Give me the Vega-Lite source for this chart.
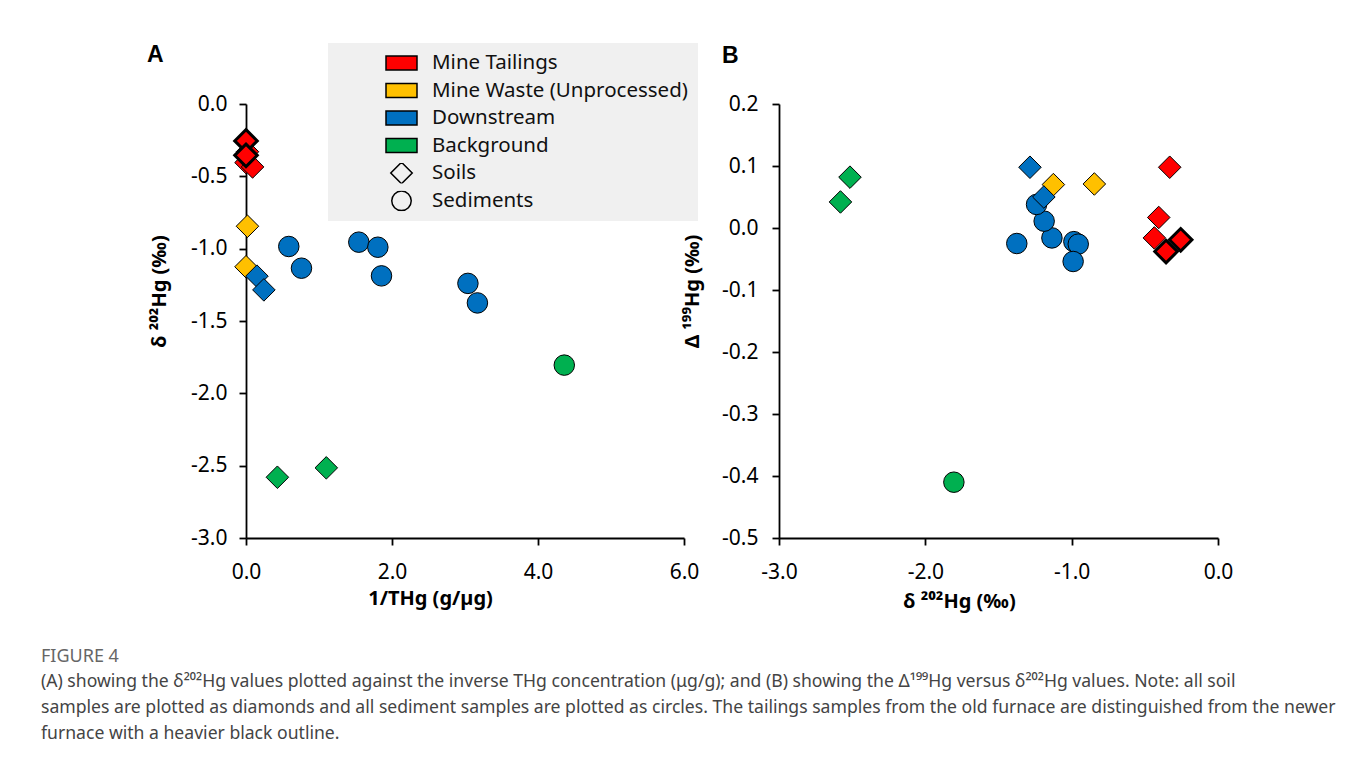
{
  "$schema": "https://vega.github.io/schema/vega-lite/v6.json",
  "background": "white",
  "padding": {"left": 41, "top": 43, "right": 5, "bottom": 5},
  "datasets": {
    "samples": [
      {"Sample": "G1", "Group": "Background", "Type": "Soils", "Outline": "normal", "invTHg": 0.43, "d202Hg": -2.58, "D199Hg": 0.042},
      {"Sample": "G2", "Group": "Background", "Type": "Soils", "Outline": "normal", "invTHg": 1.10, "d202Hg": -2.515, "D199Hg": 0.082},
      {"Sample": "G3", "Group": "Background", "Type": "Sediments", "Outline": "normal", "invTHg": 4.36, "d202Hg": -1.805, "D199Hg": -0.41},
      {"Sample": "W1", "Group": "Mine Waste (Unprocessed)", "Type": "Soils", "Outline": "normal", "invTHg": 0.02, "d202Hg": -0.845, "D199Hg": 0.071},
      {"Sample": "W2", "Group": "Mine Waste (Unprocessed)", "Type": "Soils", "Outline": "normal", "invTHg": 0.0, "d202Hg": -1.125, "D199Hg": 0.07},
      {"Sample": "S1", "Group": "Downstream", "Type": "Sediments", "Outline": "normal", "invTHg": 0.586, "d202Hg": -0.985, "D199Hg": -0.022},
      {"Sample": "S2", "Group": "Downstream", "Type": "Sediments", "Outline": "normal", "invTHg": 0.76, "d202Hg": -1.135, "D199Hg": -0.016},
      {"Sample": "S3", "Group": "Downstream", "Type": "Sediments", "Outline": "normal", "invTHg": 1.545, "d202Hg": -0.955, "D199Hg": -0.026},
      {"Sample": "S4", "Group": "Downstream", "Type": "Sediments", "Outline": "normal", "invTHg": 1.806, "d202Hg": -0.99, "D199Hg": -0.054},
      {"Sample": "S5", "Group": "Downstream", "Type": "Sediments", "Outline": "normal", "invTHg": 1.856, "d202Hg": -1.188, "D199Hg": 0.011},
      {"Sample": "S6", "Group": "Downstream", "Type": "Sediments", "Outline": "normal", "invTHg": 3.04, "d202Hg": -1.24, "D199Hg": 0.038},
      {"Sample": "S7", "Group": "Downstream", "Type": "Sediments", "Outline": "normal", "invTHg": 3.17, "d202Hg": -1.375, "D199Hg": -0.025},
      {"Sample": "D1", "Group": "Downstream", "Type": "Soils", "Outline": "normal", "invTHg": 0.15, "d202Hg": -1.19, "D199Hg": 0.05},
      {"Sample": "D2", "Group": "Downstream", "Type": "Soils", "Outline": "normal", "invTHg": 0.245, "d202Hg": -1.285, "D199Hg": 0.098},
      {"Sample": "T3", "Group": "Mine Tailings", "Type": "Soils", "Outline": "normal", "invTHg": 0.02, "d202Hg": -0.33, "D199Hg": 0.098},
      {"Sample": "T4", "Group": "Mine Tailings", "Type": "Soils", "Outline": "normal", "invTHg": 0.0, "d202Hg": -0.405, "D199Hg": 0.017},
      {"Sample": "T5", "Group": "Mine Tailings", "Type": "Soils", "Outline": "normal", "invTHg": 0.09, "d202Hg": -0.435, "D199Hg": -0.016},
      {"Sample": "T1", "Group": "Mine Tailings", "Type": "Soils", "Outline": "heavy", "invTHg": 0.0, "d202Hg": -0.255, "D199Hg": -0.019},
      {"Sample": "T2", "Group": "Mine Tailings", "Type": "Soils", "Outline": "heavy", "invTHg": 0.0, "d202Hg": -0.355, "D199Hg": -0.038}
    ]
  },
  "data": {"name": "samples"},
  "title": {
    "text": "FIGURE 4",
    "subtitle": [
      "(A) showing the δ²⁰²Hg values plotted against the inverse THg concentration (μg/g); and (B) showing the Δ¹⁹⁹Hg versus δ²⁰²Hg values. Note: all soil",
      "samples are plotted as diamonds and all sediment samples are plotted as circles. The tailings samples from the old furnace are distinguished from the newer",
      "furnace with a heavier black outline."
    ],
    "orient": "bottom",
    "anchor": "start",
    "frame": "group",
    "align": "left",
    "dx": -205,
    "offset": 37,
    "font": "Noto Sans",
    "fontSize": 18,
    "fontWeight": "normal",
    "color": "#666666",
    "subtitleFont": "Noto Sans",
    "subtitleFontSize": 17.6,
    "subtitleColor": "#444444",
    "subtitleLineHeight": 26,
    "subtitlePadding": 7
  },
  "bounds": "flush",
  "spacing": 95,
  "resolve": {
    "scale": {"x": "independent", "y": "independent", "fill": "independent", "shape": "independent", "strokeWidth": "independent"},
    "legend": {"fill": "independent", "shape": "independent"}
  },
  "hconcat": [
    {
      "width": 438,
      "height": 434,
      "title": {"text": "A", "anchor": "start", "frame": "group", "dx": -99, "offset": -42, "font": "Liberation Sans", "fontSize": 23, "fontWeight": "bold", "color": "black", "baseline": "alphabetic"},
      "mark": {"type": "point", "filled": true, "opacity": 1, "stroke": "black", "size": 420},
      "encoding": {
        "x": {
          "field": "invTHg", "type": "quantitative",
          "scale": {"domain": [0, 6], "nice": false, "zero": false},
          "axis": {
            "values": [0, 2, 4, 6],
            "labelExpr": "replace(format(datum.value, '.1f'), '−', '-')",
            "title": "1/THg (g/µg)",
            "titleX": 184, "titleY": 60, "titleBaseline": "middle", "titleAlign": "center",
            "labelPadding": 16,
            "encode": {"ticks": {"y": {"value": -6}}}
          }
        },
        "y": {
          "field": "d202Hg", "type": "quantitative",
          "scale": {"domain": [-3, 0], "nice": false, "zero": false},
          "axis": {
            "values": [0, -0.5, -1, -1.5, -2, -2.5, -3],
            "labelExpr": "replace(format(datum.value, '.1f'), '−', '-')",
            "title": "δ ²⁰²Hg (‰)",
            "titleX": -87, "titleY": 187, "titleAngle": 270, "titleBaseline": "middle", "titleAlign": "center",
            "labelPadding": 12,
            "encode": {"ticks": {"x": {"value": 6}}}
          }
        },
        "fill": {
          "field": "Group", "type": "nominal",
          "scale": {
            "domain": ["Mine Tailings", "Mine Waste (Unprocessed)", "Downstream", "Background", "Soils", "Sediments"],
            "range": ["#FF0000", "#FFC000", "#0070C0", "#00B050", "#f0f0f0", "#f0f0f0"]
          },
          "legend": {
            "orient": "none", "legendX": 82, "legendY": -61,
            "zindex": 0,
            "title": null,
            "fillColor": "#f0f0f0",
            "padding": 10,
            "symbolType": "M-1,-0.45H1V0.45H-1Z",
            "symbolSize": 961,
            "symbolStrokeColor": "black", "symbolStrokeWidth": 1.5, "symbolOpacity": 1,
            "symbolOffset": 47,
            "labelOffset": 14,
            "clipHeight": 20,
            "rowPadding": 6.5,
            "labelFont": "Noto Sans", "labelFontSize": 20.5, "labelColor": "#111111",
            "labelLimit": 400,
            "labelExpr": "datum.label === 'Soils' || datum.label === 'Sediments' ? '' : datum.label"
          }
        },
        "shape": {
          "field": "Type", "type": "nominal",
          "scale": {"domain": ["Soils", "Sediments"], "range": ["M0,-1.1L1.1,0L0,1.1L-1.1,0Z", "circle"]},
          "legend": {
            "orient": "none", "legendX": 82, "legendY": 55,
            "zindex": 1,
            "title": null,
            "fillColor": "#f0f0f0",
            "padding": 4,
            "symbolSize": 380,
            "symbolFillColor": "#f0f0f0",
            "symbolStrokeColor": "black", "symbolStrokeWidth": 1.5, "symbolOpacity": 1,
            "symbolOffset": 59,
            "labelOffset": 20,
            "clipHeight": 20,
            "rowPadding": 6.8,
            "labelFont": "Noto Sans", "labelFontSize": 20.5, "labelColor": "#111111",
            "labelLimit": 400
          }
        },
        "strokeWidth": {"field": "Outline", "type": "ordinal", "scale": {"domain": ["heavy", "normal"], "range": [3, 1]}, "legend": null}
      }
    },
    {
      "width": 439,
      "height": 434,
      "title": {"text": "B", "anchor": "start", "frame": "group", "dx": -57, "offset": 7, "font": "Liberation Sans", "fontSize": 23, "fontWeight": "bold", "color": "black", "baseline": "alphabetic"},
      "mark": {"type": "point", "filled": true, "opacity": 1, "stroke": "black", "size": 420},
      "encoding": {
        "x": {
          "field": "d202Hg", "type": "quantitative",
          "scale": {"domain": [-3, 0], "nice": false, "zero": false},
          "axis": {
            "values": [-3, -2, -1, 0],
            "labelExpr": "replace(format(datum.value, '.1f'), '−', '-')",
            "title": "δ ²⁰²Hg (‰)",
            "titleX": 180, "titleY": 63, "titleBaseline": "middle", "titleAlign": "center",
            "labelPadding": 16,
            "encode": {"ticks": {"y": {"value": -6}}}
          }
        },
        "y": {
          "field": "D199Hg", "type": "quantitative",
          "scale": {"domain": [-0.5, 0.2], "nice": false, "zero": false},
          "axis": {
            "values": [0.2, 0.1, 0, -0.1, -0.2, -0.3, -0.4, -0.5],
            "labelExpr": "replace(format(datum.value, '.1f'), '−', '-')",
            "title": "Δ ¹⁹⁹Hg (‰)",
            "titleX": -87, "titleY": 187, "titleAngle": 270, "titleBaseline": "middle", "titleAlign": "center",
            "labelPadding": 14,
            "encode": {"ticks": {"x": {"value": 6}}}
          }
        },
        "fill": {
          "field": "Group", "type": "nominal",
          "scale": {
            "domain": ["Mine Tailings", "Mine Waste (Unprocessed)", "Downstream", "Background"],
            "range": ["#FF0000", "#FFC000", "#0070C0", "#00B050"]
          },
          "legend": null
        },
        "shape": {"field": "Type", "type": "nominal", "scale": {"domain": ["Soils", "Sediments"], "range": ["M0,-1.1L1.1,0L0,1.1L-1.1,0Z", "circle"]}, "legend": null},
        "strokeWidth": {"field": "Outline", "type": "ordinal", "scale": {"domain": ["heavy", "normal"], "range": [3, 1]}, "legend": null}
      }
    }
  ],
  "config": {
    "view": {"stroke": null},
    "axis": {
      "domainColor": "black", "domainWidth": 1.8,
      "tickColor": "black", "tickWidth": 1.8, "tickSize": 7,
      "grid": false,
      "labelFont": "Noto Sans", "labelFontSize": 21, "labelColor": "black",
      "labelFlush": false, "labelOverlap": false,
      "titleFont": "Noto Sans", "titleFontSize": 20, "titleFontWeight": "bold", "titleColor": "black"
    }
  }
}
